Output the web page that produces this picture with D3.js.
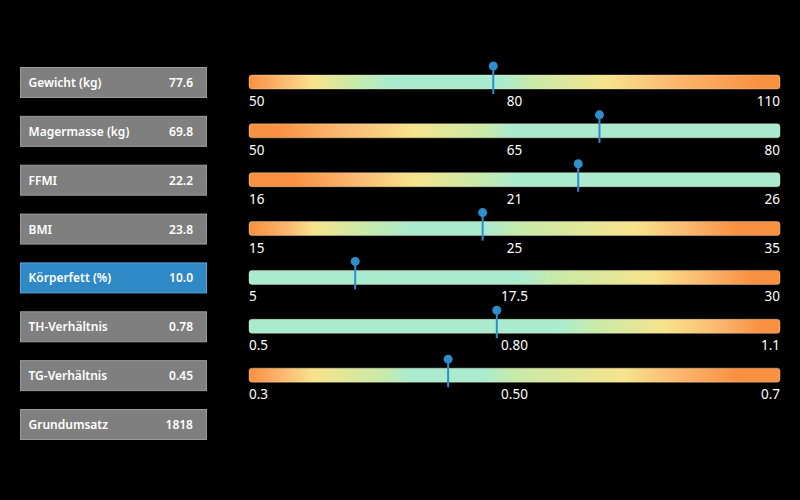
<!DOCTYPE html>
<html>
<head>
<meta charset="utf-8">
<script src="https://cdn.jsdelivr.net/npm/d3@7"></script>
<style>
  body { margin: 0; background: #000; }
  svg { display: block; font-family: "Noto Sans", "Open Sans", sans-serif; }
</style>
</head>
<body>
<div id="chart"></div>
<script>
// values shown in the boxes on the left
var labels = ["Gewicht (kg)", "Magermasse (kg)", "FFMI", "BMI", "Körperfett (%)", "TH-Verhältnis", "TG-Verhältnis", "Grundumsatz"];
var values = [77.6, 69.8, 22.2, 23.8, 10.0, 0.78, 0.45, 1818];
var decimals = [1, 1, 1, 1, 1, 2, 2, 0];
var highlighted = 4;

// gauge ranges (no gauge for Grundumsatz)
var domainMin = [50, 50, 16, 15, 5, 0.5, 0.3];
var domainMax = [110, 80, 26, 35, 30, 1.1, 0.7];
var tickLabels = [
  ["50", "80", "110"],
  ["50", "65", "80"],
  ["16", "21", "26"],
  ["15", "25", "35"],
  ["5", "17.5", "30"],
  ["0.5", "0.80", "1.1"],
  ["0.3", "0.50", "0.7"]
];

// zone colour stops along each gauge: [value, zone]
var zones = [
  [[50, "O"], [53.7, "LO"], [57.3, "Y"], [62, "G"], [66, "M"], [78.7, "M"], [81.9, "G"], [90.5, "Y"], [98, "LO"], [108, "O"]],
  [[50, "O"], [51.5, "O"], [55.1, "LO"], [59.3, "Y"], [63.4, "G"], [64.9, "M"], [80, "M"]],
  [[16, "O"], [16.8, "O"], [18, "LO"], [19.1, "Y"], [20.3, "G"], [21.05, "M"], [26, "M"]],
  [[15, "O"], [16.5, "LO"], [17.4, "Y"], [19.4, "G"], [21.1, "M"], [23.9, "M"], [25.2, "G"], [29.5, "Y"], [31.5, "LO"], [33.4, "O"], [35, "O"]],
  [[5, "M"], [17.8, "M"], [19.3, "G"], [24, "Y"], [26.4, "LO"], [28.7, "O"], [30, "O"]],
  [[0.5, "M"], [0.85, "M"], [0.89, "G"], [0.97, "Y"], [1.03, "LO"], [1.08, "O"], [1.1, "O"]],
  [[0.3, "O"], [0.325, "LO"], [0.349, "Y"], [0.401, "G"], [0.421, "M"], [0.476, "M"], [0.5, "G"], [0.583, "Y"], [0.621, "LO"], [0.67, "O"], [0.7, "O"]]
];

var zoneColor = {O: "#f98f40", LO: "#fbb870", Y: "#f7e38c", G: "#c8eaaa", M: "#aaebd0"};
var markerColor = "#2f8dcc";

var width = 800, height = 500;

var svg = d3.select("#chart").append("svg")
    .attr("width", width)
    .attr("height", height);

svg.append("rect").attr("width", width).attr("height", height).attr("fill", "#000");

var defs = svg.append("defs");

var yScale = d3.scalePoint()
    .domain(d3.range(labels.length))
    .range([82, 424]);

// left boxes
var boxes = svg.selectAll("g.box")
    .data(labels)
    .enter().append("g")
    .attr("class", "box")
    .attr("transform", function (d, i) { return "translate(20," + yScale(i) + ")"; });

boxes.append("rect")
    .attr("x", 0.5)
    .attr("y", -14.5)
    .attr("width", 186)
    .attr("height", 30)
    .attr("fill", function (d, i) { return i === highlighted ? "#3089c7" : "#7f7f7f"; })
    .attr("stroke", function (d, i) { return i === highlighted ? "#5aa5da" : "#9c9c9c"; })
    .attr("stroke-width", 1);

boxes.append("text")
    .attr("x", 8.5)
    .attr("y", 5)
    .attr("fill", "#fff")
    .attr("font-size", "12px")
    .attr("font-weight", 600)
    .text(function (d) { return d; });

boxes.append("text")
    .attr("x", 173)
    .attr("y", 5)
    .attr("text-anchor", "end")
    .attr("fill", "#fff")
    .attr("font-size", "12px")
    .attr("font-weight", 600)
    .text(function (d, i) { return values[i].toFixed(decimals[i]); });

// gauges
var barLeft = 249, barRight = 780;

domainMin.forEach(function (mn, i) {
  var x = d3.scaleLinear().domain([mn, domainMax[i]]).range([barLeft, barRight]);
  var cy = yScale(i);

  var grad = defs.append("linearGradient")
      .attr("id", "grad" + i)
      .attr("gradientUnits", "userSpaceOnUse")
      .attr("x1", x(mn)).attr("x2", x(domainMax[i]))
      .attr("y1", 0).attr("y2", 0);

  grad.selectAll("stop")
      .data(zones[i])
      .enter().append("stop")
      .attr("offset", function (d) { return (x(d[0]) - barLeft) / (barRight - barLeft); })
      .attr("stop-color", function (d) { return zoneColor[d[1]]; });

  var g = svg.append("g").attr("class", "gauge");

  g.append("rect")
      .attr("x", barLeft)
      .attr("y", cy - 7)
      .attr("width", barRight - barLeft)
      .attr("height", 14)
      .attr("rx", 3)
      .attr("fill", "url(#grad" + i + ")")
      .attr("stroke", "rgba(255,250,200,0.35)")
      .attr("stroke-width", 1);

  var tickVals = [mn, (mn + domainMax[i]) / 2, domainMax[i]];
  g.selectAll("text")
      .data(tickLabels[i])
      .enter().append("text")
      .attr("x", function (d, j) { return x(tickVals[j]); })
      .attr("y", cy + 24)
      .attr("text-anchor", function (d, j) { return j === 0 ? "start" : (j === 1 ? "middle" : "end"); })
      .attr("fill", "#fff")
      .attr("font-size", "13.5px")
      .text(function (d) { return d; });

  var mx = x(values[i]);
  g.append("line")
      .attr("x1", mx).attr("x2", mx)
      .attr("y1", cy - 16).attr("y2", cy + 12)
      .attr("stroke", markerColor)
      .attr("stroke-width", 2);

  g.append("circle")
      .attr("cx", mx)
      .attr("cy", cy - 16)
      .attr("r", 4.5)
      .attr("fill", markerColor);
});
</script>
</body>
</html>
